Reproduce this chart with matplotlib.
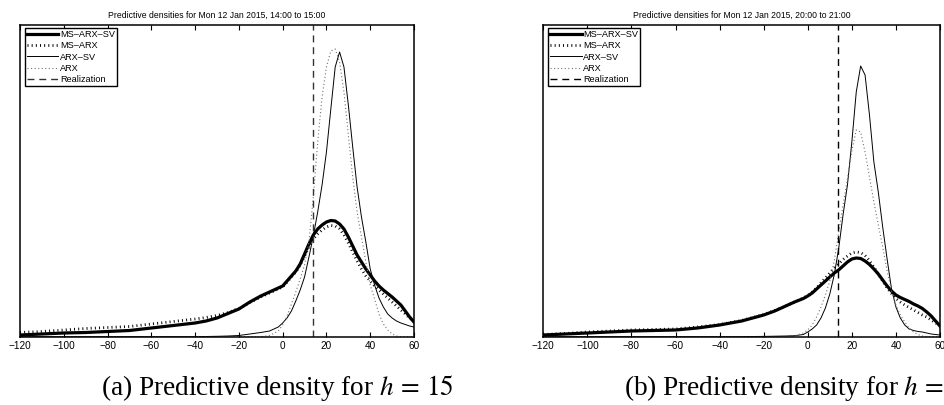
import numpy as np
import matplotlib
matplotlib.use("Agg")
import matplotlib.pyplot as plt

plt.rcParams['font.family'] = ['Liberation Sans', 'DejaVu Sans']
plt.rcParams['mathtext.fontset'] = 'stix'

# ---------------- data (density values x 1e-4) ----------------
x_grid = [-120, -110, -100, -90, -80, -70, -60, -50, -40, -35, -30, -25, -20, -15, -10, -6, -2,
          0, 2, 4, 6, 8, 10, 12, 14, 16, 18, 20, 22, 24, 26, 28, 30, 32, 34, 36, 38, 40,
          42, 44, 46, 48, 50, 52, 54, 56, 58, 60]

# Panel (a): Mon 12 Jan 2015, 14:00 to 15:00
a_ms_arx_sv = [4, 6, 8, 9, 11, 13, 18, 23, 28, 32, 38, 47, 56, 70, 82, 90, 98,
               102, 112, 122, 132, 146, 166, 186, 204, 216, 224, 230, 233, 232, 226, 216, 200,
               182, 164, 150, 136, 124, 112, 102, 94, 87, 80, 72, 64, 52, 40, 30]
a_ms_arx = [9, 11, 14, 17, 19, 21, 26, 31, 36, 39, 43, 49, 57, 69, 80, 88, 96,
            100, 110, 120, 130, 144, 162, 180, 196, 206, 214, 220, 223, 222, 216, 204, 188,
            170, 152, 136, 122, 112, 102, 94, 86, 78, 70, 62, 54, 46, 38, 30]
a_arx_sv = [0.6, 0.6, 0.6, 0.6, 0.6, 0.6, 0.6, 0.6, 0.6, 1, 1.4, 2, 3, 6, 9, 12, 20,
            28, 38, 52, 72, 94, 120, 160, 202, 250, 304, 370, 456, 540, 570, 540, 464,
            380, 300, 240, 190, 136, 104, 78, 60, 46, 38, 32, 28, 25, 22, 20]
a_arx = [0.6, 0.6, 0.6, 0.6, 0.6, 0.6, 0.6, 0.6, 0.6, 0.6, 0.6, 0.6, 0.6, 0.6, 0.6, 3, 12,
         24, 42, 66, 90, 116, 144, 190, 280, 390, 480, 540, 572, 576, 550, 490, 404,
         320, 250, 200, 150, 104, 76, 46, 26, 14, 6, 2, 0.6, 0.6, 0.6, 0.6]
a_realization = 13.8

# Panel (b): Mon 12 Jan 2015, 20:00 to 21:00
b_ms_arx_sv = [4, 6, 8, 10, 12, 13, 14, 18, 24, 28, 32, 38, 44, 52, 62, 70, 77,
               82, 88, 96, 104, 112, 120, 128, 134, 142, 150, 156, 158, 157, 152, 145, 136,
               126, 114, 102, 92, 84, 79, 75, 71, 66, 62, 57, 50, 42, 32, 22]
b_ms_arx = [5, 7, 10, 12, 14, 15, 16, 20, 25, 29, 33, 39, 45, 53, 62, 70, 78,
            83, 90, 98, 108, 118, 128, 138, 146, 155, 162, 168, 170, 169, 163, 153, 140,
            126, 112, 98, 87, 77, 70, 64, 59, 54, 49, 44, 40, 34, 28, 23]
b_arx_sv = [0.6, 0.6, 0.6, 0.6, 0.6, 0.6, 0.6, 0.6, 0.6, 0.6, 0.6, 1, 1.2, 1.6, 2, 2.6, 5,
            10, 16, 24, 38, 58, 86, 124, 176, 244, 304, 390, 490, 542, 524, 444, 350,
            290, 220, 156, 96, 60, 38, 24, 16, 13, 11, 10, 8, 6, 5, 4]
b_arx = [0.6, 0.6, 0.6, 0.6, 0.6, 0.6, 0.6, 0.6, 0.6, 0.6, 0.6, 0.6, 0.6, 0.6, 0.6, 2, 8,
         14, 24, 40, 60, 84, 112, 152, 208, 264, 316, 372, 414, 410, 370, 320, 270,
         224, 180, 132, 92, 64, 44, 30, 18, 10, 5, 2, 0.6, 0.6, 0.6, 0.6]
b_realization = 13.9

titles = ["Predictive densities for Mon 12 Jan 2015, 14:00 to 15:00",
          "Predictive densities for Mon 12 Jan 2015, 20:00 to 21:00"]
captions = ["(a) Predictive density for $h\\,=\\,15$",
            "(b) Predictive density for $h\\,=$"]
labels = ["MS\u2013ARX\u2013SV", "MS\u2013ARX", "ARX\u2013SV", "ARX", "Realization"]
xticks = [-120, -100, -80, -60, -40, -20, 0, 20, 40, 60]

# ---------------- figure ----------------
fig = plt.figure(figsize=(9.44, 4.05), dpi=100)
axes_pos = [[20 / 944, 68 / 405, 394 / 944, 312 / 405],
            [543.3 / 944, 68 / 405, 396.7 / 944, 312 / 405]]

panels = [(a_ms_arx_sv, a_ms_arx, a_arx_sv, a_arx, a_realization),
          (b_ms_arx_sv, b_ms_arx, b_arx_sv, b_arx, b_realization)]

xg = np.array(x_grid, dtype=float)
for i, (msv, ms, asv, ar, real) in enumerate(panels):
    ax = fig.add_axes(axes_pos[i])
    l1, = ax.plot(xg, np.array(msv) * 1e-4, color='black', lw=2.3, solid_joinstyle='round')
    l2, = ax.plot(xg, np.array(ms) * 1e-4, color='black', lw=2.0,
                  linestyle=(0, (0.35, 1.15)), dash_capstyle='butt')
    l3, = ax.plot(xg, np.array(asv) * 1e-4, color='black', lw=0.7, solid_joinstyle='round')
    l4, = ax.plot(xg, np.array(ar) * 1e-4, color='0.45', lw=0.8,
                  linestyle=(0, (1.0, 2.2)))
    l5 = ax.axvline(real, color='0.2' if i == 0 else 'black', lw=1.0,
                    linestyle=(0, (5, 3.5)))
    ax.set_xlim(-120, 60)
    ax.set_ylim(0, 0.0624)
    ax.set_xticks(xticks)
    ax.set_xticklabels([("\u2212" + str(abs(t))) if t < 0 else str(t) for t in xticks])
    ax.set_yticks([])
    ax.tick_params(axis='x', direction='in', top=True, bottom=True, length=3.5,
                   width=0.8, labelsize=7.2, pad=3)
    for s in ax.spines.values():
        s.set_linewidth(1.1)
    ax.set_title(titles[i], fontsize=6.2, pad=5)
    leg = ax.legend([l1, l2, l3, l4, l5], labels, loc='upper left', fontsize=6.6,
                    bbox_to_anchor=(5 / 394, 1 - 3 / 312), borderaxespad=0,
                    frameon=True, fancybox=False, framealpha=1, edgecolor='black',
                    handlelength=3.4, handletextpad=0.2, labelspacing=0.25,
                    borderpad=0.22)
    leg.get_frame().set_linewidth(1.0)

fig.text(101 / 944, 1 - 395 / 405, captions[0], fontsize=19.6, family='Liberation Serif',
         ha='left', va='baseline')
fig.text(624 / 944, 1 - 395 / 405, captions[1], fontsize=19.6, family='Liberation Serif',
         ha='left', va='baseline')

fig.savefig("out.png", dpi=100)
